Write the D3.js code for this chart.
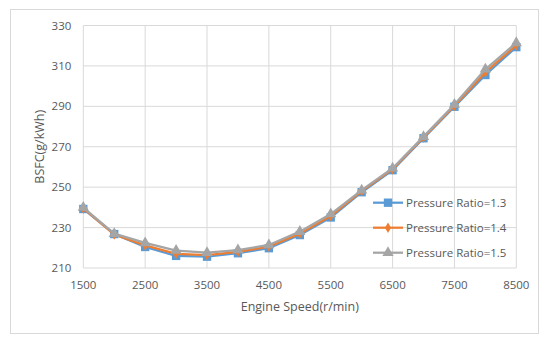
<!DOCTYPE html>
<html>
<head>
	<meta charset="utf-8">
	<title>BSFC</title>
	<script src="https://d3js.org/d3.v7.min.js"></script>
	<style>
		body{margin: 0; background: white;}
		text{font-family: "Open Sans", "Noto Sans", sans-serif; fill: #595959;}
		.grid line{stroke: #d9d9d9; stroke-width: 1;}
		.series .ln{fill: none; stroke-width: 2.25;}
	</style>
</head>
<body>
	<script>
		var width = 550, height = 345;
		var margin = {left: 83.3, right: 33.7, top: 25.5, bottom: 77};

		var speeds = [1500, 2000, 2500, 3000, 3500, 4000, 4500, 5000, 5500, 6000, 6500, 7000, 7500, 8000, 8500];
		var pr13 = [239.2, 226.8, 220.4, 216.0, 215.6, 217.3, 219.8, 226.3, 235.0, 247.5, 258.4, 274.2, 289.8, 305.5, 319.3];
		var pr14 = [239.5, 226.6, 221.2, 217.0, 216.4, 218.0, 220.6, 227.0, 235.7, 248.0, 258.9, 274.6, 290.3, 306.8, 320.2];
		var pr15 = [239.9, 227.0, 222.4, 218.6, 217.6, 218.9, 221.4, 228.0, 236.7, 248.5, 259.4, 275.0, 290.9, 308.3, 321.4];
		var seriesNames = ["Pressure Ratio=1.3", "Pressure Ratio=1.4", "Pressure Ratio=1.5"];
		var colors = ["#5b9bd5", "#ed7d31", "#a5a5a5"];
		var markers = [d3.symbolSquare, d3.symbolDiamond, d3.symbolTriangle];
		var markerSizes = [70, 32, 55];
		var xTicks = [1500, 2500, 3500, 4500, 5500, 6500, 7500, 8500];
		var yTicks = [210, 230, 250, 270, 290, 310, 330];

		var svg = d3.select("body").append("svg")
					.attr("width", width).attr("height", height);

		// chart border
		svg.append("rect")
			.attr("x", 10.5).attr("y", 9.5)
			.attr("width", 528).attr("height", 324)
			.attr("fill", "white").attr("stroke", "#d9d9d9");

		var x = d3.scaleLinear().domain([1500, 8500])
					.range([margin.left, width - margin.right]);
		var y = d3.scaleLinear().domain([210, 330])
					.range([height - margin.bottom, margin.top]);

		var grid = svg.append("g").attr("class", "grid");
		grid.selectAll(".h").data(yTicks).enter().append("line")
			.attr("x1", x(1500)).attr("x2", x(8500))
			.attr("y1", function(d){return y(d);})
			.attr("y2", function(d){return y(d);});
		grid.selectAll(".v").data(xTicks).enter().append("line")
			.attr("y1", y(210)).attr("y2", y(330))
			.attr("x1", function(d){return x(d);})
			.attr("x2", function(d){return x(d);});

		svg.append("g").selectAll("text").data(yTicks).enter().append("text")
			.text(function(d){return d;})
			.attr("x", x(1500) - 12)
			.attr("y", function(d){return y(d);})
			.attr("dy", "0.35em")
			.attr("text-anchor", "end")
			.attr("font-size", "11.5px");

		svg.append("g").selectAll("text").data(xTicks).enter().append("text")
			.text(function(d){return d;})
			.attr("x", function(d){return x(d);})
			.attr("y", y(210) + 17)
			.attr("dy", "0.35em")
			.attr("text-anchor", "middle")
			.attr("font-size", "11.5px");

		svg.append("text").text("Engine Speed(r/min)")
			.attr("x", (x(1500) + x(8500)) / 2).attr("y", 307)
			.attr("dy", "0.35em")
			.attr("text-anchor", "middle").attr("font-size", "12.5px");

		svg.append("text").text("BSFC(g/kWh)")
			.attr("transform", "translate(40," + ((y(210) + y(330)) / 2) + ") rotate(-90)")
			.attr("dy", "0.35em")
			.attr("text-anchor", "middle").attr("font-size", "12.5px");

		var allSeries = [pr13, pr14, pr15];
		var line = d3.line()
					.x(function(d, i){return x(speeds[i]);})
					.y(function(d){return y(d);});

		allSeries.forEach(function(vals, k){
			var g = svg.append("g").attr("class", "series");
			g.append("path").attr("class", "ln").attr("d", line(vals)).attr("stroke", colors[k]);
			g.selectAll("path.m").data(vals).enter().append("path")
				.attr("class", "m")
				.attr("d", d3.symbol().type(markers[k]).size(markerSizes[k]))
				.attr("transform", function(d, i){return "translate(" + x(speeds[i]) + "," + y(d) + ")";})
				.attr("fill", colors[k]).attr("stroke", "none");
		});

		// legend
		var legend = svg.append("g").selectAll("g").data(seriesNames).enter().append("g")
					.attr("transform", function(d, i){return "translate(373," + (202.7 + i * 25) + ")";});
		legend.append("line")
			.attr("x1", 0).attr("x2", 30)
			.attr("stroke", function(d, i){return colors[i];})
			.attr("stroke-width", 2.25);
		legend.append("path")
			.attr("d", function(d, i){return d3.symbol().type(markers[i]).size(markerSizes[i])();})
			.attr("transform", "translate(15,0)")
			.attr("fill", function(d, i){return colors[i];});
		legend.append("text")
			.text(function(d){return d;})
			.attr("x", 33).attr("dy", "0.35em")
			.attr("font-size", "11.5px");
	</script>
</body>
</html>
